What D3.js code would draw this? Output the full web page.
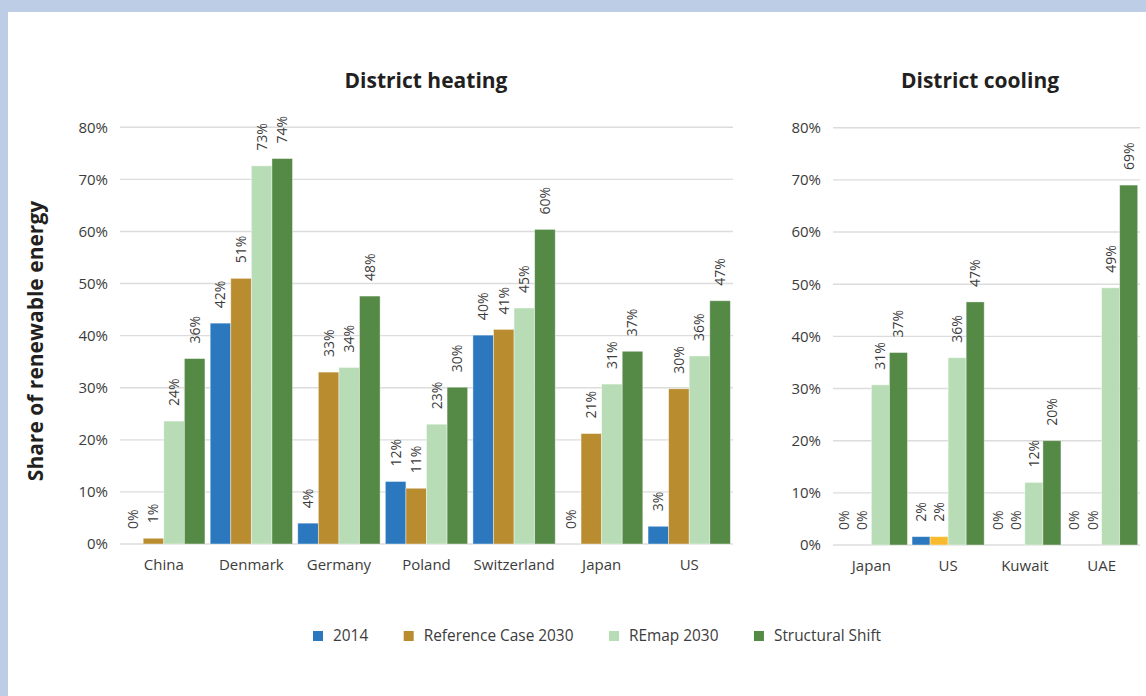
<!DOCTYPE html>
<html>
<head>
<meta charset="utf-8">
<script src="https://cdn.jsdelivr.net/npm/d3@7"></script>
<style>
  body { margin: 0; background: #fff; }
  svg { display: block; }
  text { font-family: "Open Sans", sans-serif; }
</style>
</head>
<body>
<svg id="chart" width="1146" height="696"></svg>
<script>
// series names, shared by both panels
var seriesNames = ["2014", "Reference Case 2030", "REmap 2030", "Structural Shift"];
var seriesColors = ["#2b78be", "#b98c30", "#b8dcb5", "#558946"];

// district heating (% share of renewables)
var heatCountries = ["China", "Denmark", "Germany", "Poland", "Switzerland", "Japan", "US"];
var heat2014  = [0, 42.4, 4.0, 12.0, 40.1, 0, 3.4];
var heatRef   = [1.1, 51.0, 33.0, 10.7, 41.2, 21.2, 29.8];
var heatRemap = [23.6, 72.6, 33.9, 23.0, 45.3, 30.7, 36.1];
var heatShift = [35.6, 74.0, 47.6, 30.1, 60.4, 37.0, 46.7];

// district cooling
var coolCountries = ["Japan", "US", "Kuwait", "UAE"];
var cool2014  = [0, 1.6, 0, 0];
var coolRef   = [0, 1.6, 0, 0];
var coolRemap = [30.7, 35.9, 12.0, 49.3];
var coolShift = [36.9, 46.6, 20.0, 69.0];

var yTicks = [0, 10, 20, 30, 40, 50, 60, 70, 80];

var svg = d3.select("#chart");

// frame
svg.append("rect").attr("x", 0).attr("y", 0).attr("width", 1146).attr("height", 12).attr("fill", "#bccde5");
svg.append("rect").attr("x", 0).attr("y", 0).attr("width", 8).attr("height", 696).attr("fill", "#bccde5");

var drawPanel = function(p) {

    var x = d3.scaleBand()
        .domain(p.countries)
        .range([p.x0, p.x1])
        .paddingInner(0.06)
        .paddingOuter(0.03);

    var xs = d3.scaleBand()
        .domain(d3.range(seriesNames.length))
        .range([0, x.bandwidth()]);

    var y = d3.scaleLinear()
        .domain([0, 80])
        .range([p.y0, p.y1]);

    var g = svg.append("g");

    // grid
    g.selectAll(".grid")
        .data(yTicks)
        .enter().append("line")
        .attr("x1", p.x0)
        .attr("x2", p.x1)
        .attr("y1", function(d) { return y(d); })
        .attr("y2", function(d) { return y(d); })
        .attr("stroke", "#dcdcdc")
        .attr("stroke-width", 1.4);

    var yAxis = g.append("g")
        .attr("transform", "translate(" + (p.x0 - 12) + ",0)")
        .call(d3.axisLeft(y).tickValues(yTicks).tickSize(0).tickPadding(0)
            .tickFormat(function(d) { return d + "%"; }));
    yAxis.select(".domain").remove();
    yAxis.selectAll("text")
        .attr("font-family", "Open Sans")
        .attr("font-size", 15)
        .attr("fill", "#3c3c3c");

    var xAxis = g.append("g")
        .attr("transform", "translate(0," + p.y0 + ")")
        .call(d3.axisBottom(x).tickSize(0).tickPadding(15));
    xAxis.select(".domain").remove();
    xAxis.selectAll("text")
        .attr("font-family", "Open Sans")
        .attr("font-size", 15)
        .attr("fill", "#3c3c3c");

    // flatten into one record per bar
    var bars = [];
    p.countries.forEach(function(c, i) {
        p.series.forEach(function(s, j) {
            bars.push({ country: c, k: j, value: s[i] });
        });
    });

    var group = g.selectAll(".bar")
        .data(bars)
        .enter().append("g")
        .attr("class", "bar");

    group.append("rect")
        .attr("x", function(d) { return x(d.country) + xs(d.k); })
        .attr("width", xs.bandwidth())
        .attr("y", function(d) { return y(d.value); })
        .attr("height", function(d) { return y(0) - y(d.value); })
        .attr("fill", function(d) {
            if (p.override && p.override.country === d.country && p.override.k === d.k) return p.override.color;
            return seriesColors[d.k]; })
        .attr("stroke", "#fff")
        .attr("stroke-opacity", 0.5)
        .attr("stroke-width", 0.8);

    group.append("text")
        .attr("transform", function(d) {
            var cx = x(d.country) + xs(d.k) + xs.bandwidth() / 2;
            return "translate(" + cx + "," + (y(d.value) - 15) + ") rotate(-90)"; })
        .attr("dy", ".35em")
        .attr("font-size", 14)
        .attr("fill", "#3c3c3c")
        .text(function(d) { return Math.round(d.value) + "%"; });

    svg.append("text")
        .attr("x", p.titleX)
        .attr("y", 88)
        .attr("text-anchor", "middle")
        .attr("font-size", 21)
        .attr("font-weight", 700)
        .attr("fill", "#231f20")
        .text(p.title);
}

drawPanel({
    title: "District heating", titleX: 426,
    countries: heatCountries,
    series: [heat2014, heatRef, heatRemap, heatShift],
    x0: 120, x1: 733, y0: 544, y1: 127.3
});

drawPanel({
    title: "District cooling", titleX: 980,
    countries: coolCountries,
    series: [cool2014, coolRef, coolRemap, coolShift],
    x0: 833, x1: 1140, y0: 545, y1: 127.7,
    override: { country: "US", k: 1, color: "#f8bb2e" }
});

// y title
svg.append("text")
    .attr("transform", "translate(43,341) rotate(-90)")
    .attr("text-anchor", "middle")
    .attr("font-size", 21)
    .attr("font-weight", 700)
    .attr("fill", "#231f20")
    .text("Share of renewable energy");

// legend
var lx = 313;
seriesNames.forEach(function(name, i) {
    svg.append("rect")
        .attr("x", lx).attr("y", 631)
        .attr("width", 10).attr("height", 10)
        .attr("fill", seriesColors[i]);
    var t = svg.append("text")
        .attr("x", lx + 20).attr("y", 641)
        .attr("font-size", 15.4)
        .attr("fill", "#3c3c3c")
        .text(name);
    lx += 20 + t.node().getComputedTextLength() + 35.5;
});
</script>
</body>
</html>
